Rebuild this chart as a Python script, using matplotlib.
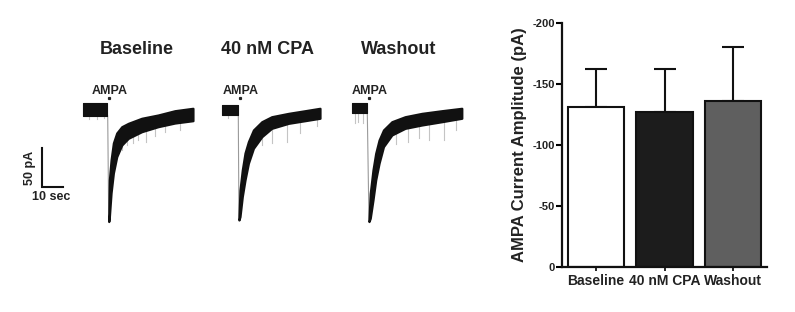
import numpy as np
import matplotlib
matplotlib.use('Agg')
from matplotlib import pyplot as plt

plt.rcParams['font.family'] = ['Liberation Sans', 'DejaVu Sans']
plt.rcParams['font.weight'] = 'bold'
plt.rcParams['axes.unicode_minus'] = False

# ---- data --------------------------------------------------------
conditions = ['Baseline', '40 nM CPA', 'Washout']

# bar chart: mean amplitude (pA) and SEM
amp_mean = [-131, -127, -136]
amp_sem = [31, 35, 44]

# example traces: time (s, from AMPA) / current envelope (pA)
pre_start = [-11.8, -7.9, -7.1]
pre_upper = [9.0, 6.4, 9.0]
pre_lower = [-7.7, -6.4, -3.8]

base_t = [0.5, 0.8, 1.6, 2.7, 4.3, 6.7, 9.8, 16.2, 24.0, 32.0, 40.6]
base_up = [-141, -89.7, -64.1, -42.3, -29.5, -21.4, -17.1, -10.6, -6.4, -0.9, 2.2]
base_low = [-143, -136.8, -106.4, -80.8, -59.9, -44.9, -36.3, -27.8, -21.4, -16.7, -13.7]

cpa_t = [0.3, 0.8, 1.9, 3.2, 4.8, 7.2, 11.2, 15.9, 23.9, 31.8, 38.9]
cpa_up = [-139, -102.6, -76.9, -55.1, -40.6, -25.6, -15.0, -8.6, -4.3, -0.9, 2.2]
cpa_low = [-141, -136.8, -111.0, -89.7, -68.3, -49.1, -34.2, -23.5, -17.1, -13.7, -10.6]

wash_t = [0.8, 1.4, 2.7, 4.0, 5.6, 7.7, 11.7, 18.0, 26.0, 35.5, 45.0]
wash_up = [-141, -106.8, -76.9, -55.5, -38.5, -25.6, -15.0, -8.6, -4.3, -0.9, 2.2]
wash_low = [-143, -138.8, -115.4, -89.7, -68.3, -47.0, -32.0, -23.5, -19.2, -15.0, -10.6]

# downward noise spikes
base_spk_t = [-9.0, -5.0, -2.0, 6.8, 9.2, 12.0, 14.4, 18.2, 22.5, 27.3, 34.4]
base_spk_i = [-11, -12, -10, -51, -45, -42, -38, -41, -33, -28, -26]
cpa_spk_t = [-5.0, 11.2, 15.9, 23.0, 29.4, 37.3]
cpa_spk_i = [-10, -45, -42, -41, -29, -21]
wash_spk_t = [-6.0, -4.2, -2.0, 13.7, 19.3, 24.8, 29.5, 36.7, 42.3]
wash_spk_i = [-17, -15, -17, -43, -41, -36, -38, -38, -26]

trace_t = [base_t, cpa_t, wash_t]
trace_up = [base_up, cpa_up, wash_up]
trace_low = [base_low, cpa_low, wash_low]
spk_t = [base_spk_t, cpa_spk_t, wash_spk_t]
spk_i = [base_spk_i, cpa_spk_i, wash_spk_i]

# ---- figure ------------------------------------------------------
W, H = 795, 312
fig = plt.figure(figsize=(W / 100, H / 100), dpi=100)

# left: traces, axes in seconds / pA  (2.1 px per s, 0.78 px per pA)
pxs, pxa = 2.1, 0.78
ax = fig.add_axes([0, 0, 480 / W, 1])
ax.set_xlim(0, 480 / pxs)
ax.set_ylim(-(H - 110) / pxa, 110 / pxa)
ax.axis('off')

offsets = [107.7 / pxs, 238.3 / pxs, 367.3 / pxs]
title_dx = [14.0, 14.1, 15.1]
txtc = '#222222'

for k in range(3):
    x0 = offsets[k]
    t = np.array(trace_t[k])
    up = np.array(trace_up[k])
    lo = np.array(trace_low[k])
    # spikes (behind the trace)
    for st, si in zip(spk_t[k], spk_i[k]):
        top = pre_lower[k] if st < 0 else np.interp(st, t, lo)
        ax.plot([x0 + st, x0 + st], [si, top], color='#c4c4c4', lw=0.8, zorder=1)
    # pre-application block
    ax.fill_between([x0 + pre_start[k], x0 - 0.2], pre_lower[k], pre_upper[k],
                    color='#111111', lw=0.8, edgecolor='#111111', zorder=2)
    # fast drop (thin grey)
    ax.plot([x0, x0 + t[0]], [pre_lower[k], lo[0]], color='#9a9a9a', lw=0.8, zorder=1)
    # response
    ax.fill_between(x0 + t, lo, up, color='#111111', lw=1.6, edgecolor='#111111',
                    zorder=2)
    # labels
    ax.text(x0 + title_dx[k], 77.8, conditions[k], ha='center', va='center',
            fontsize=13, fontweight='bold', color=txtc)
    ax.text(x0 + 1.0, 24, 'AMPA', ha='center', va='center', fontsize=9,
            fontweight='bold', color=txtc)
    ax.plot([x0 + 0.7], [16.0], 's', ms=1.3, color='#222222')

# scale bar
sb_x, sb_y = 20.0, -98.7
ax.plot([sb_x, sb_x, sb_x + 10], [sb_y + 50, sb_y, sb_y], color='#111111', lw=1.5,
        solid_joinstyle='miter')
ax.text(14.3, sb_y + 25, '50 pA', rotation=90, ha='center', va='center',
        fontsize=9, fontweight='bold', color=txtc)
ax.text(24.6, sb_y - 12.5, '10 sec', ha='center', va='center',
        fontsize=9, fontweight='bold', color=txtc)

# right: bar chart
bx = fig.add_axes([562 / W, (H - 267) / H, (767 - 562) / W, (267 - 23) / H])
xpos = np.arange(3)
bar_cols = ['#ffffff', '#1c1c1c', '#5f5f5f']
bx.bar(xpos, amp_mean, width=0.82, color=bar_cols, edgecolor='#111111',
       linewidth=1.5, zorder=2)
bx.errorbar(xpos, amp_mean, yerr=[amp_sem, [0, 0, 0]], fmt='none',
            ecolor='#111111', elinewidth=1.5, capsize=8, capthick=1.5, zorder=1)
bx.set_xlim(-0.5, 2.5)
bx.set_ylim(0, -200)
bx.set_yticks([0, -50, -100, -150, -200])
bx.set_xticks(xpos)
bx.set_xticklabels(conditions, fontsize=10, fontweight='bold', color=txtc)
for lab in bx.get_yticklabels():
    lab.set_fontsize(8)
    lab.set_fontweight('bold')
    lab.set_color(txtc)
for s in ['top', 'right']:
    bx.spines[s].set_visible(False)
for s in ['left', 'bottom']:
    bx.spines[s].set_linewidth(1.6)
    bx.spines[s].set_color('#111111')
bx.tick_params(axis='y', direction='out', length=4, width=1.5, pad=1)
bx.tick_params(axis='x', direction='out', length=3, width=1.2, pad=2)
bx.set_ylabel('AMPA Current Amplitude (pA)', fontsize=12, fontweight='bold',
              color=txtc, labelpad=4)

fig.savefig('out.png', dpi=100)
